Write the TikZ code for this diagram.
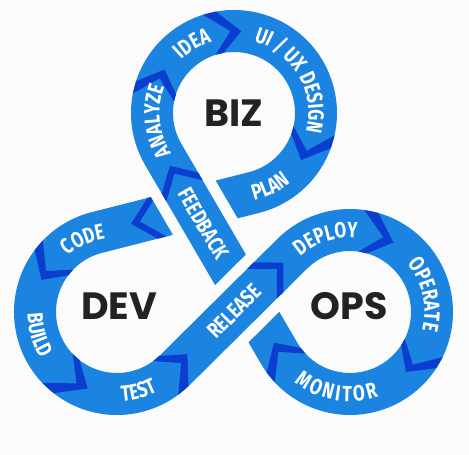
\documentclass[tikz,border=0pt]{standalone}
\usepackage{fontspec}
\usetikzlibrary{calc,decorations.text}
\newfontfamily\bandfamily{Fira Sans}[FakeStretch=0.78]
\newfontfamily\bandwidefamily{Fira Sans}[FakeStretch=0.781]
\newfontfamily\hubfamily{Poppins}
\newcommand\bandfont{\bandfamily\bfseries\fontsize{22bp}{22bp}\selectfont}
\newcommand\bandwidefont{\bandwidefamily\bfseries\fontsize{22bp}{22bp}\selectfont\fontdimen2\font=2.6bp\relax}
\newcommand\hubfont{\hubfamily\bfseries\fontsize{38bp}{38bp}\selectfont}
\definecolor{bandblue}{HTML}{1A84E0}
\definecolor{chevblue}{HTML}{0B3DCF}
\definecolor{hubink}{HTML}{222222}
\definecolor{paper}{HTML}{FBFBFB}
\tikzset{
  band/.style={draw=bandblue,line width=42bp},
  band_gap/.style={draw=paper,line width=64bp},
  chev/.style={fill=chevblue},
  hub_lbl/.style={font=\hubfont,text=hubink,inner sep=0pt},
  step_lbl/.style={font=\bandfont,text=white,inner sep=0pt},
  arc_lbl/.style={decorate,decoration={text along path,text align=center,text color=white,text={|\bandfont|#1}}},
  arc_lbl_wide/.style={decorate,decoration={text along path,text align=center,text color=white,text={|\bandwidefont|#1}}},
}
% ring chevron: centre, arm angle, tip angle
\newcommand\ringchev[3]{%
  \fill[chev] ($(#1)+(#2:103bp)$) -- ($(#1)+(#3:82bp)$) -- ($(#1)+(#2:61bp)$)
    -- ($(#1)+({#2+0.5*(#2-(#3))}:61bp)$) -- ($(#1)+({#3+0.5*(#2-(#3))}:82bp)$)
    -- ($(#1)+({#2+0.5*(#2-(#3))}:103bp)$) -- cycle;}
% straight chevron: from, to, arm, tip, arm back, tip back
\newcommand\linechev[6]{%
  \fill[chev] ($(#1)!#3bp!(#2)!21bp!90:(#2)$) -- ($(#1)!#4bp!(#2)$) -- ($(#1)!#3bp!(#2)!21bp!-90:(#2)$)
    -- ($(#1)!#5bp!(#2)!21bp!-90:(#2)$) -- ($(#1)!#6bp!(#2)$) -- ($(#1)!#5bp!(#2)!21bp!90:(#2)$) -- cycle;}
\begin{document}
\begin{tikzpicture}[>=latex,line join=bevel,x=1bp,y=1bp]
%%
\fill[paper] (0,0) rectangle (469,455);
\useasboundingbox (0,0) rectangle (469,455);
\coordinate (c_biz) at (234,342);
\coordinate (c_dev) at (117,143);
\coordinate (c_ops) at (350,143);
\coordinate (t_bizA) at ($(c_biz)+(210.24:82bp)$);
\coordinate (t_bizB) at ($(c_biz)+(-75.72:82bp)$);
\coordinate (t_devA) at ($(c_dev)+(104.28:82bp)$);
\coordinate (t_devB) at ($(c_dev)+(-45.26:82bp)$);
\coordinate (t_opsA) at ($(c_ops)+(134.74:82bp)$);
\coordinate (t_opsB) at ($(c_ops)+(210.24:82bp)$);
\draw[band] (t_bizA) arc[start angle=210.24,end angle=-75.72,radius=82bp] -- (t_devA)
  arc[start angle=104.28,end angle=314.74,radius=82bp] -- (t_opsA)
  arc[start angle=134.74,end angle=-149.76,radius=82bp] -- cycle;
\ringchev{c_biz}{162}{148}
\ringchev{c_biz}{100}{85}
\ringchev{c_biz}{-20}{-35}
\ringchev{c_dev}{143}{157}
\ringchev{c_dev}{232}{249}
\ringchev{c_dev}{314}{329}
\ringchev{c_ops}{74}{58}
\ringchev{c_ops}{-33}{-47}
\ringchev{c_ops}{216}{202}
\linechev{t_bizB}{t_devA}{105}{127}{96}{118}
% feedback over code
\draw[band_gap] ($(t_opsB)!130bp!(t_bizA)$) -- ($(t_opsB)!215bp!(t_bizA)$);
\draw[band] ($(t_opsB)!129bp!(t_bizA)$) -- ($(t_opsB)!216bp!(t_bizA)$);
\linechev{t_opsB}{t_bizA}{197}{217}{188}{208}
% release over feedback
\draw[band_gap] ($(t_devB)!68bp!(t_opsA)$) -- ($(t_devB)!137bp!(t_opsA)$);
\draw[band] ($(t_devB)!67bp!(t_opsA)$) -- ($(t_devB)!138bp!(t_opsA)$);
\linechev{t_devB}{t_opsA}{132}{153}{123}{144}
\path[arc_lbl={IDEA}] ($(c_biz)+(181:74.4bp)$) arc[start angle=181,end angle=61,radius=74.4bp];
\path[arc_lbl={UI / UX DESIGN}] ($(c_biz)+(105:74.4bp)$) arc[start angle=105,end angle=-45,radius=74.4bp];
\path[arc_lbl={ANALYZE}] ($(c_biz)+(246:74.4bp)$) arc[start angle=246,end angle=126,radius=74.4bp];
\path[arc_lbl={PLAN}] ($(c_biz)+(-124:89.6bp)$) arc[start angle=-124,end angle=-4,radius=89.6bp];
\path[arc_lbl={CODE}] ($(c_dev)+(175:74.4bp)$) arc[start angle=175,end angle=55,radius=74.4bp];
\path[arc_lbl={BUILD}] ($(c_dev)+(136:89.6bp)$) arc[start angle=136,end angle=256,radius=89.6bp];
\path[arc_lbl={TEST}] ($(c_dev)+(-135:89.6bp)$) arc[start angle=-135,end angle=-15,radius=89.6bp];
\path[arc_lbl={DEPLOY}] ($(c_ops)+(168:74.4bp)$) arc[start angle=168,end angle=48,radius=74.4bp];
\path[arc_lbl={OPERATE}] ($(c_ops)+(73:74.4bp)$) arc[start angle=73,end angle=-47,radius=74.4bp];
\path[arc_lbl_wide={M O N I T O R}] ($(c_ops)+(-160:89.6bp)$) arc[start angle=-160,end angle=-40,radius=89.6bp];
\node[step_lbl,rotate=-59.76] (lbl_feedback) at ($(t_bizA)!80bp!(t_opsB)$) {FEEDBACK};
\node[step_lbl,rotate=44.74] (lbl_release) at ($(t_devB)!84bp!(t_opsA)$) {RELEASE};
\node[hub_lbl] (hub_biz) at (234,342) {BIZ};
\node[hub_lbl] (hub_dev) at (119,148.5) {DEV};
\node[hub_lbl] (hub_ops) at (349,148.5) {OPS};
%
\end{tikzpicture}
\end{document}
